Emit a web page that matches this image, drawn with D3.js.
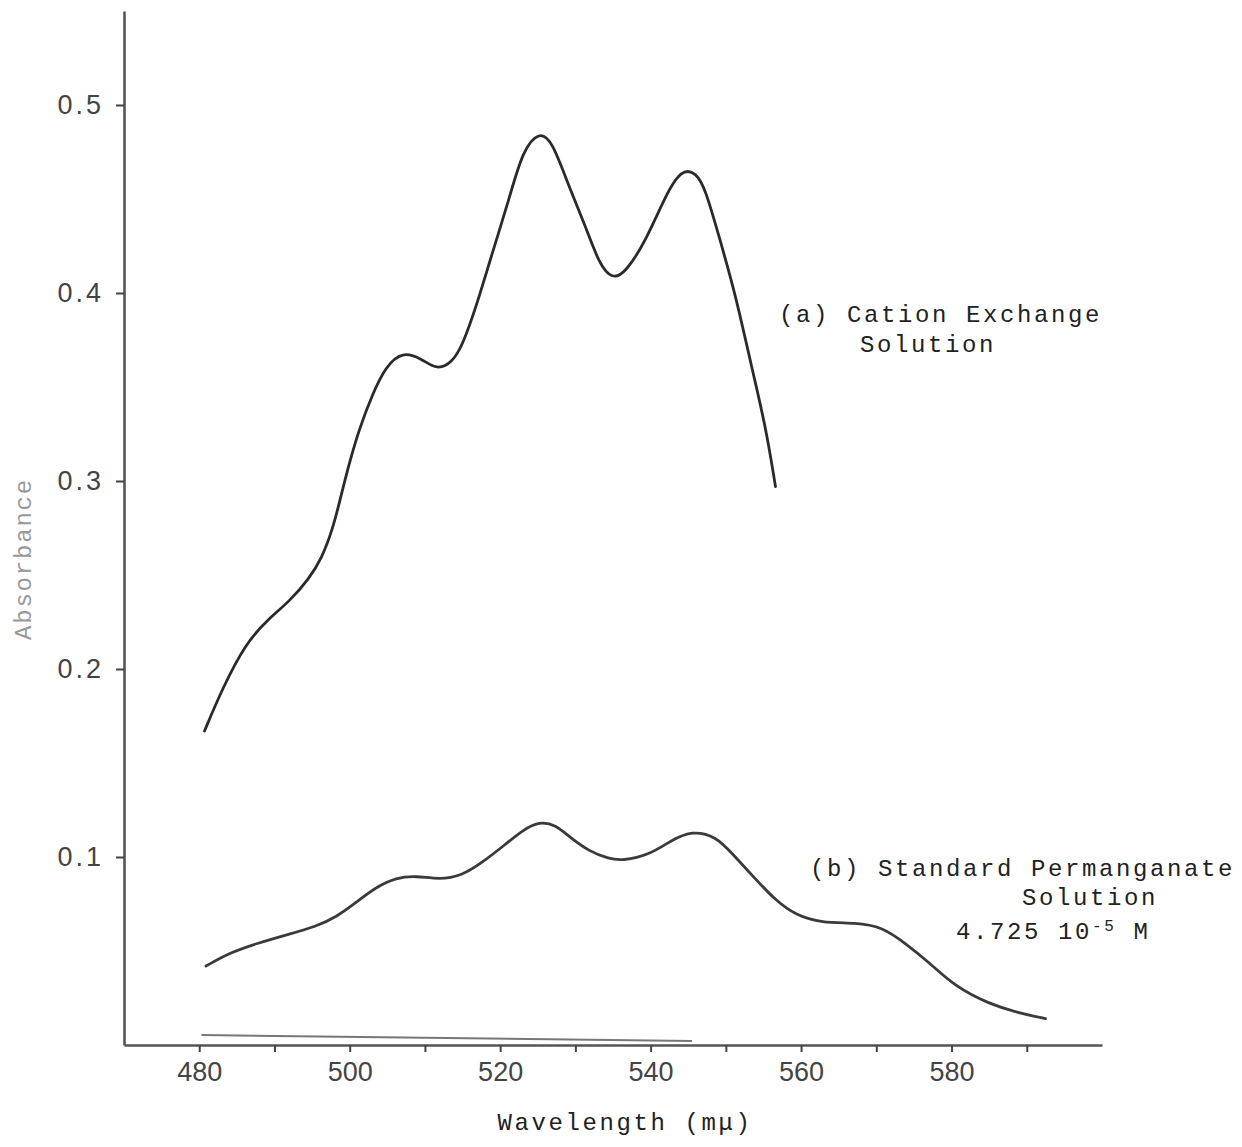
<!DOCTYPE html>
<html>
<head>
<meta charset="utf-8">
<script src="https://cdnjs.cloudflare.com/ajax/libs/d3/7.8.5/d3.min.js"></script>
<style>
    body { margin: 0; background: #fff; }
    svg { display: block; }
</style>
</head>
<body>
<svg></svg>
<script>
// Data: wavelength (mμ) and absorbance
const curveA = [
    [480.7, 0.167], [483.0, 0.189], [486.2, 0.214], [489.3, 0.227], [492.0, 0.236],
    [494.6, 0.248], [496.3, 0.259], [497.7, 0.274], [498.6, 0.288], [499.9, 0.309],
    [501.3, 0.328], [503.0, 0.346], [504.8, 0.361], [507.0, 0.369], [509.6, 0.365],
    [511.6, 0.359], [513.6, 0.363], [515.0, 0.372], [517.0, 0.395], [519.0, 0.422],
    [521.2, 0.450], [523.0, 0.476], [525.2, 0.486], [526.9, 0.481], [529.1, 0.457],
    [531.4, 0.435], [533.1, 0.416], [534.9, 0.407], [536.7, 0.411], [539.4, 0.428],
    [542.0, 0.452], [544.1, 0.466], [546.1, 0.464], [547.3, 0.455], [549.1, 0.430],
    [551.3, 0.399], [553.4, 0.361], [555.3, 0.329], [556.6, 0.297]
];

const curveB = [
    [480.9, 0.042], [484.0, 0.049], [487.6, 0.054], [492.0, 0.059], [495.5, 0.063],
    [498.2, 0.068], [500.9, 0.076], [503.5, 0.084], [506.2, 0.089], [508.8, 0.090],
    [511.9, 0.088], [514.9, 0.090], [517.6, 0.097], [520.8, 0.107], [522.9, 0.114],
    [525.2, 0.119], [527.4, 0.117], [529.1, 0.111], [531.8, 0.103], [534.5, 0.099],
    [536.2, 0.098], [539.8, 0.101], [542.8, 0.109], [545.5, 0.114], [548.7, 0.111],
    [550.8, 0.102], [554.0, 0.088], [556.6, 0.077], [559.3, 0.069], [562.7, 0.065],
    [567.3, 0.065], [570.7, 0.063], [573.9, 0.054], [577.0, 0.044], [580.5, 0.031],
    [584.9, 0.022], [588.9, 0.017], [592.5, 0.014]
];

const baseLine = [[480.3, 0.0053], [545.5, 0.0021]];

const yTicks = [0.1, 0.2, 0.3, 0.4, 0.5];
const xTicks = [480, 490, 500, 510, 520, 530, 540, 550, 560, 570, 580, 590];
const xLabelled = [480, 500, 520, 540, 560, 580];

const labelA = ["(a)  Cation Exchange", "Solution"];
const labelB = ["(b)  Standard Permanganate", "Solution"];

// Canvas
const width = 1242, height = 1147;
const svg = d3.select("svg")
    .attr("width", width)
    .attr("height", height);

const margins = { top: 11, right: 140, bottom: 102, left: 124 };
const graphWidth = width - margins.left - margins.right;
const graphHeight = height - margins.top - margins.bottom;

const graph = svg.append("g")
    .attr("transform", `translate(${margins.left}, ${margins.top})`);

const xScale = d3.scaleLinear().domain([470, 600]).range([0, graphWidth]);
const yScale = d3.scaleLinear().domain([0, 0.55]).range([graphHeight, 0]);

const mono = "'Liberation Mono', 'DejaVu Sans Mono', monospace";
const sans = "'Liberation Sans', Arial, sans-serif";

// Axes
const xAxis = d3.axisBottom(xScale)
    .tickValues(xTicks)
    .tickSize(7)
    .tickSizeOuter(0)
    .tickPadding(10)
    .tickFormat(d => xLabelled.includes(d) ? d : "");

const yAxis = d3.axisLeft(yScale)
    .tickValues(yTicks)
    .tickSize(8)
    .tickSizeOuter(0)
    .tickPadding(12)
    .tickFormat(d3.format(".1f"));

const xAxisGroup = graph.append("g")
    .attr("transform", `translate(0, ${graphHeight})`)
    .call(xAxis);
const yAxisGroup = graph.append("g").call(yAxis);

[xAxisGroup, yAxisGroup].forEach(g => {
    g.select(".domain").attr("stroke", "#555").attr("stroke-width", 2.6);
    g.selectAll(".tick line").attr("stroke", "#444").attr("stroke-width", 2);
    g.selectAll(".tick text")
        .attr("fill", "#444")
        .style("font-family", sans)
        .style("font-size", "27px");
});
yAxisGroup.selectAll(".tick text").style("letter-spacing", "3px");

// Curves
const line = d3.line()
    .x(d => xScale(d[0]))
    .y(d => yScale(d[1]))
    .curve(d3.curveBasis);

graph.append("path")
    .datum(baseLine)
    .attr("d", line)
    .attr("fill", "none")
    .attr("stroke", "#777")
    .attr("stroke-width", 2);

graph.append("path")
    .datum(curveA)
    .attr("d", line)
    .attr("fill", "none")
    .attr("stroke", "#2a2a2a")
    .attr("stroke-width", 2.8)
    .attr("stroke-linecap", "round");

graph.append("path")
    .datum(curveB)
    .attr("d", line)
    .attr("fill", "none")
    .attr("stroke", "#3a3a3a")
    .attr("stroke-width", 2.8)
    .attr("stroke-linecap", "round");

// Axis titles
svg.append("text")
    .attr("transform", "translate(31, 559) rotate(-90)")
    .attr("text-anchor", "middle")
    .attr("fill", "#999")
    .style("font-family", mono)
    .style("font-size", "24px")
    .style("letter-spacing", "1.8px")
    .text("Absorbance");

svg.append("text")
    .attr("x", 625)
    .attr("y", 1130)
    .attr("text-anchor", "middle")
    .attr("fill", "#222")
    .style("font-family", mono)
    .style("font-size", "24px")
    .style("letter-spacing", "2.6px")
    .text("Wavelength (mμ)");

// Curve labels
const legend = svg.append("g")
    .attr("fill", "#222")
    .style("font-family", mono)
    .style("font-size", "24px")
    .style("letter-spacing", "2.6px");

legend.append("text").attr("x", 779).attr("y", 322).text(labelA[0]);
legend.append("text").attr("x", 860).attr("y", 352).text(labelA[1]);

legend.append("text").attr("x", 810).attr("y", 876).text(labelB[0]);
legend.append("text").attr("x", 1022).attr("y", 905).text(labelB[1]);

const conc = legend.append("text").attr("x", 956).attr("y", 939);
conc.append("tspan").text("4.725  10");
conc.append("tspan").attr("dy", -8).style("font-size", "16px").text("-5");
conc.append("tspan").attr("dy", 8).text(" M");
</script>
</body>
</html>
